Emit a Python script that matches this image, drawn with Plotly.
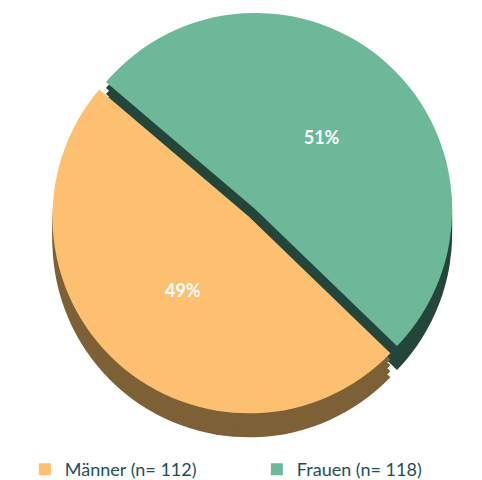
import plotly.graph_objects as go

labels = ["Männer (n= 112)", "Frauen (n= 118)"]
values = [49, 51]
text_labels = ["49%", "51%"]
top_colors = ["#FDC070", "#6DB898"]
side_colors = ["#7E6036", "#24463A"]
pulls = [0, 0.05]

ROT = 134

fig = go.Figure()

# depth layers (side of the 3D pie)
for off in [24, 18, 12, 6]:
    dy = off / 480
    fig.add_trace(go.Pie(
        labels=labels, values=values, sort=False, direction="counterclockwise",
        rotation=ROT, pull=pulls, textinfo="none", hoverinfo="skip",
        marker=dict(colors=side_colors, line=dict(width=0)),
        domain=dict(x=[0.0, 1.0], y=[0.135 - dy, 0.995 - dy]),
        showlegend=False,
    ))

fig.add_trace(go.Pie(
    labels=labels, values=values, sort=False, direction="counterclockwise",
    rotation=ROT, pull=pulls, text=text_labels, textinfo="text",
    textposition="inside", insidetextorientation="horizontal",
    textfont=dict(color="white", size=18, family="Lato", weight="bold"),
    marker=dict(colors=top_colors, line=dict(width=0)),
    domain=dict(x=[0.0, 1.0], y=[0.135, 0.995]),
    hoverinfo="label+percent",
))

fig.update_layout(
    width=482, height=480,
    margin=dict(l=0, r=0, t=0, b=0),
    paper_bgcolor="white",
    font=dict(family="Lato", color="#1F4E5A", size=18),
    legend=dict(orientation="h", x=0.035, xanchor="left", y=0.0, yanchor="bottom",
                bgcolor="rgba(0,0,0,0)",
                entrywidth=187, font=dict(size=18, color="#1F4E5A")),
)

fig.write_html("out.html")
